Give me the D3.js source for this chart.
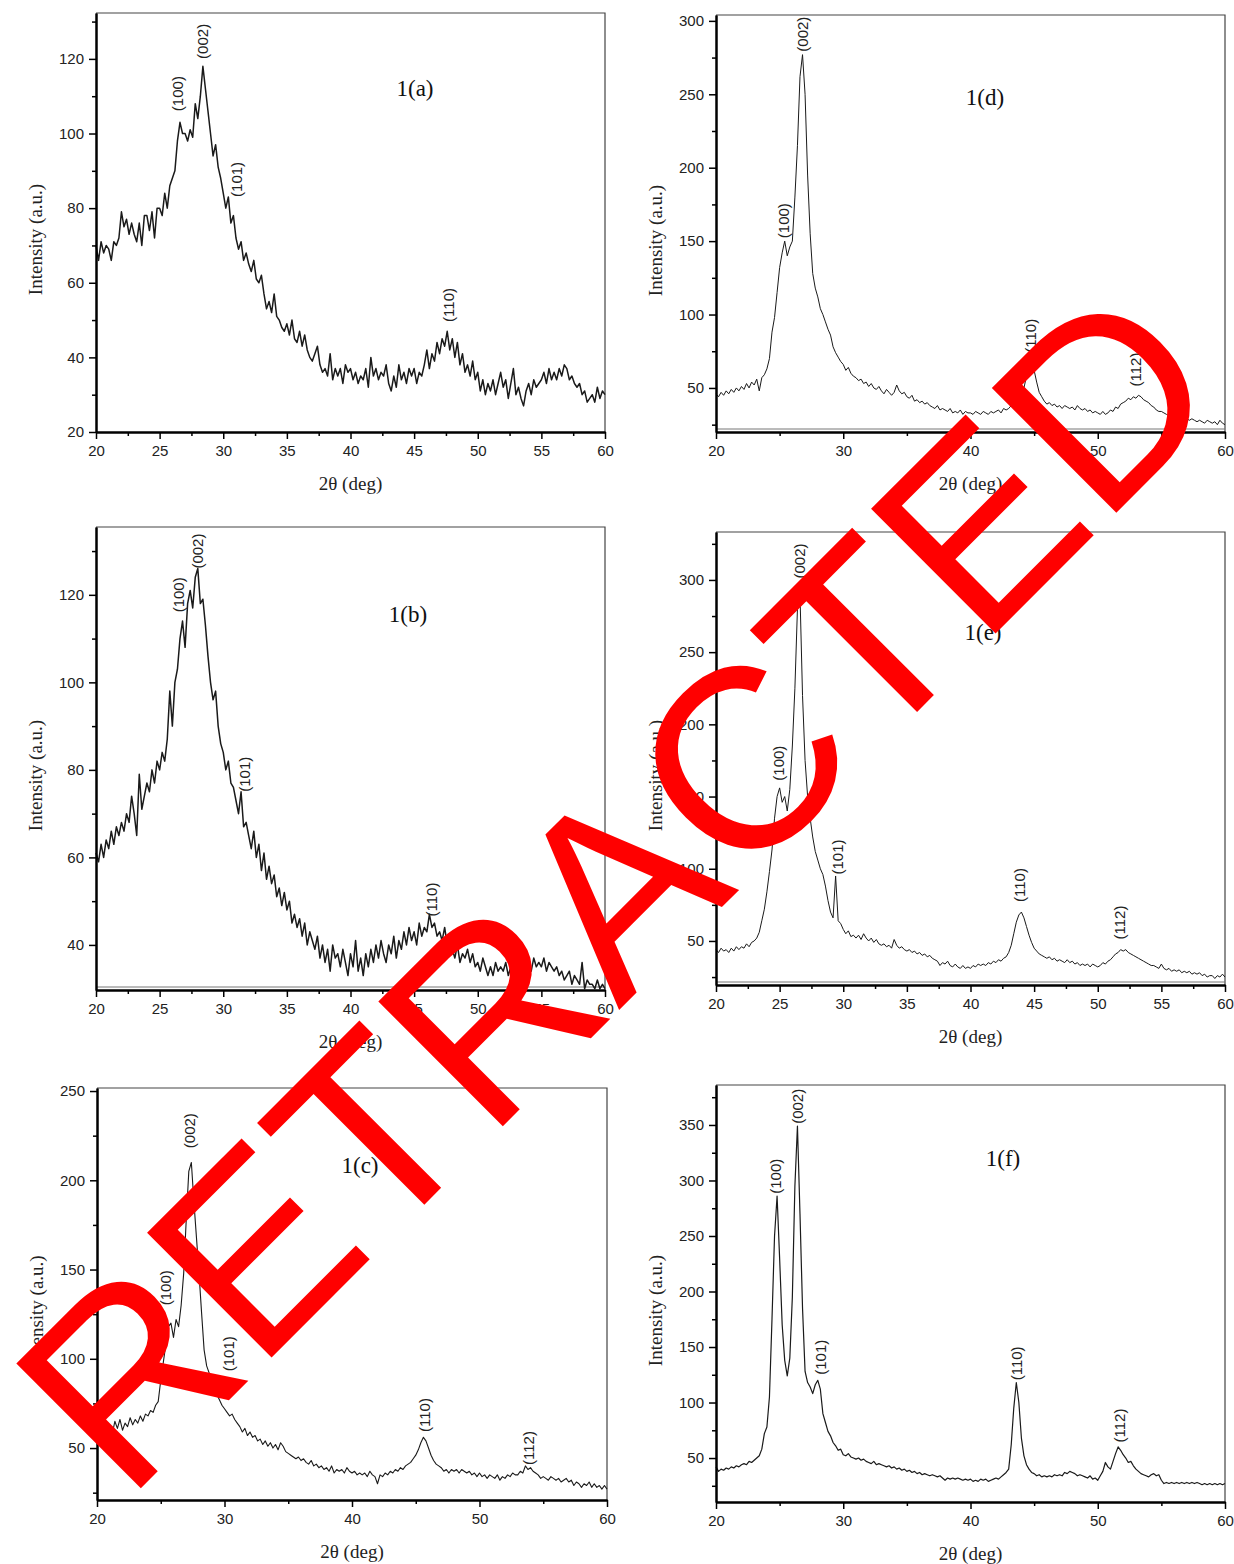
<!DOCTYPE html>
<html>
<head>
<meta charset="utf-8">
<script src="https://cdn.jsdelivr.net/npm/d3@7"></script>
<style>
  body { margin: 0; background: #fff; }
  svg { display: block; }
</style>
</head>
<body>
<svg id="chart" width="1234" height="1564"></svg>
<script>
// measurement grid: 2-theta from 20 to 60 deg, 0.2 deg step
const twoTheta = d3.range(0, 201).map(i => 20 + i * 0.2);

// intensities, one group per degree (x.0 x.2 x.4 x.6 x.8)
const intensityA = [
  70, 66, 71, 68, 70,  69, 66, 71, 70, 72,  79, 75, 77, 73, 76,  73, 71, 76, 70, 78,
  78, 74, 79, 72, 80,  80, 78, 84, 80, 86,  88, 90, 98, 103, 100,  100, 98, 101, 99, 108,
  104, 110, 118, 112, 106,  100, 94, 97, 91, 88,  84, 80, 83, 76, 78,  72, 69, 71, 66, 68,
  65, 63, 66, 61, 60,  62, 57, 53, 55, 52,  57, 51, 50, 48, 47,  49, 46, 50, 45, 44,
  47, 43, 46, 42, 40,  39, 41, 43, 38, 36,  37, 35, 41, 34, 37,  35, 37, 33, 38, 36,
  37, 34, 36, 33, 35,  34, 37, 32, 40, 35,  37, 34, 36, 35, 38,  33, 31, 35, 32, 38,
  34, 36, 33, 37, 35,  37, 33, 36, 35, 38,  42, 37, 41, 39, 44,  41, 45, 43, 47, 42,
  45, 40, 44, 38, 41,  36, 38, 35, 39, 34,  36, 31, 34, 30, 33,  31, 34, 30, 33, 36,
  32, 34, 29, 33, 37,  30, 32, 29, 27, 31,  33, 30, 34, 32, 33,  34, 36, 33, 37, 34,
  36, 34, 37, 35, 38,  37, 34, 35, 33, 32,  33, 30, 31, 28, 29,  30, 28, 32, 29, 31,
  30
];
const intensityB = [
  61, 59, 63, 60, 64,  62, 66, 63, 67, 65,  68, 66, 70, 68, 74,  70, 65, 79, 71, 74,
  77, 75, 80, 77, 82,  80, 84, 82, 87, 98,  90, 100, 103, 110, 114,  108, 118, 121, 117, 124,
  126, 118, 119, 113, 106,  100, 96, 98, 90, 86,  84, 80, 82, 77, 76,  73, 70, 75, 67, 68,
  65, 62, 66, 60, 63,  57, 61, 55, 58, 54,  56, 51, 53, 49, 52,  48, 50, 45, 47, 44,
  46, 42, 45, 40, 43,  41, 39, 42, 37, 40,  36, 39, 34, 40, 37,  38, 35, 39, 36, 33,
  38, 35, 41, 34, 37,  33, 38, 35, 39, 36,  40, 37, 41, 38, 36,  40, 38, 42, 37, 41,
  39, 43, 40, 44, 41,  43, 40, 45, 42, 44,  43, 47, 44, 45, 42,  43, 41, 44, 40, 42,
  39, 37, 40, 36, 38,  37, 39, 36, 38, 35,  36, 34, 37, 35, 33,  35, 33, 36, 34, 35,
  34, 36, 33, 35, 34,  35, 37, 34, 36, 35,  36, 34, 37, 35, 36,  35, 37, 34, 36, 35,
  34, 35, 33, 34, 32,  33, 34, 31, 33, 32,  31, 36, 30, 32, 31,  31, 30, 32, 30, 31,
  30
];
const intensityC = [
  58, 62, 60, 64, 59,  63, 58, 65, 61, 66,  60, 64, 62, 67, 63,  66, 64, 68, 65, 69,
  68, 71, 70, 74, 76,  88, 98, 108, 118, 120,  112, 122, 118, 130, 148,  178, 205, 210, 188, 168,
  148, 126, 105, 96, 92,  88, 84, 80, 77, 74,  72, 70, 68, 69, 66,  64, 62, 59, 61, 57,
  59, 56, 57, 54, 55,  52, 54, 51, 53, 50,  52, 49, 53, 51, 48,  47, 46, 45, 44, 45,
  43, 44, 42, 41, 43,  40, 41, 39, 40, 38,  39, 37, 40, 36, 38,  37, 38, 36, 39, 37,
  36, 37, 35, 36, 35,  36, 34, 37, 35, 34,  30, 35, 34, 36, 35,  37, 36, 38, 37, 39,
  38, 40, 41, 42, 44,  46, 49, 53, 56, 54,  50, 46, 43, 41, 40,  39, 37, 38, 36, 38,
  37, 38, 36, 38, 37,  36, 37, 35, 36, 34,  36, 34, 35, 33, 35,  34, 33, 35, 32, 34,
  33, 35, 34, 36, 35,  35, 37, 36, 40, 38,  39, 37, 36, 35, 33,  34, 33, 32, 34, 33,
  32, 33, 31, 32, 33,  31, 32, 29, 31, 30,  28, 30, 29, 31, 28,  30, 28, 29, 27, 29,
  27
];
const intensityD = [
  46, 44, 47, 45, 48,  46, 49, 47, 50, 48,  51, 49, 53, 50, 54,  52, 56, 48, 57, 59,
  63, 70, 88, 98, 115,  132, 142, 150, 140, 146,  150, 180, 215, 262, 277,  250, 195, 155, 128, 118,
  112, 104, 100, 95, 90,  86, 78, 74, 71, 68,  66, 62, 64, 60, 58,  57, 55, 56, 53, 54,
  51, 53, 50, 49, 51,  48, 46, 49, 47, 45,  47, 52, 48, 46, 47,  44, 43, 45, 41, 42,
  40, 41, 39, 40, 38,  37, 36, 38, 35, 36,  35, 34, 36, 33, 34,  33, 35, 32, 34, 33,
  33, 32, 34, 33, 32,  34, 33, 32, 34, 33,  34, 35, 33, 36, 35,  36, 38, 37, 39, 41,
  44, 50, 58, 68, 66,  62, 54, 47, 44, 41,  39, 40, 38, 39, 37,  38, 36, 38, 37, 36,
  37, 35, 38, 36, 35,  36, 34, 35, 33, 34,  33, 32, 34, 32, 33,  35, 34, 37, 36, 39,
  40, 41, 43, 42, 44,  43, 45, 44, 42, 41,  40, 38, 37, 35, 34,  34, 33, 32, 31, 32,
  30, 31, 29, 30, 29,  29, 28, 29, 28, 27,  28, 27, 26, 28, 27,  26, 27, 25, 28, 26,
  25
];
const intensityE = [
  44, 42, 45, 43, 44,  42, 45, 43, 46, 44,  46, 45, 48, 46, 49,  50, 52, 56, 64, 72,
  84, 98, 113, 135, 150,  156, 146, 150, 140, 155,  185, 225, 280, 290, 220,  175, 150, 135, 122, 112,
  106, 100, 96, 88, 78,  70, 66, 95, 64, 62,  58, 55, 57, 53, 54,  52, 54, 51, 55, 52,
  50, 52, 49, 51, 48,  47, 48, 46, 47, 45,  51, 47, 45, 46, 44,  43, 44, 42, 43, 41,
  42, 40, 41, 39, 40,  38, 37, 36, 33, 35,  34, 36, 33, 32, 34,  32, 31, 33, 31, 32,
  31, 33, 32, 34, 33,  34, 33, 35, 34, 36,  35, 37, 36, 38, 39,  42, 47, 55, 63, 68,
  70, 66, 60, 54, 49,  45, 43, 41, 40, 39,  38, 39, 37, 38, 36,  37, 36, 35, 37, 35,
  36, 34, 35, 33, 34,  33, 34, 32, 34, 33,  32, 33, 35, 34, 36,  37, 39, 41, 42, 44,
  43, 44, 42, 41, 40,  39, 38, 37, 36, 35,  34, 33, 33, 32, 31,  34, 31, 30, 31, 29,
  30, 29, 30, 28, 29,  28, 29, 27, 28, 27,  28, 26, 27, 25, 26,  26, 24, 26, 25, 27,
  25
];
const intensityF = [
  42, 38, 40, 39, 41,  40, 42, 41, 43, 42,  44, 45, 44, 47, 46,  48, 50, 52, 58, 72,
  78, 105, 175, 250, 286,  230, 170, 138, 124, 140,  195, 295, 349, 270, 185,  128, 118, 114, 108, 116,
  120, 112, 90, 82, 74,  70, 64, 61, 57, 58,  53, 52, 54, 51, 50,  49, 50, 48, 49, 47,
  46, 45, 47, 44, 45,  44, 43, 42, 43, 41,  42, 40, 41, 39, 40,  38, 39, 37, 38, 36,
  37, 35, 36, 35, 34,  35, 34, 33, 34, 32,  30, 32, 31, 32, 31,  32, 31, 30, 31, 30,
  31, 29, 30, 29, 31,  30, 31, 29, 30, 31,  32, 31, 33, 35, 37,  40, 62, 95, 118, 100,
  68, 52, 44, 40, 37,  36, 34, 35, 33, 34,  33, 34, 33, 35, 34,  35, 34, 37, 36, 38,
  37, 36, 34, 35, 34,  33, 32, 34, 31, 32,  30, 34, 38, 46, 42,  40, 47, 54, 60, 57,
  53, 50, 46, 47, 43,  40, 38, 36, 35, 34,  33, 35, 36, 34, 35,  30, 27, 28, 27, 28,
  27, 28, 27, 28, 27,  28, 27, 28, 27, 28,  27, 26, 27, 26, 27,  26, 27, 26, 27, 26,
  27
];

// peak annotations: hkl text, 2-theta, intensity where the label starts
const peaksA = ["(100)", "(002)", "(101)", "(110)"];
const peakPosA = [26.4, 28.4, 31.1, 47.7];
const peakTopA = [106, 120, 83, 49.5];
const peaksB = ["(100)", "(002)", "(101)", "(110)"];
const peakPosB = [26.5, 28.0, 31.7, 46.4];
const peakTopB = [116, 126, 75, 46.5];
const peaksC = ["(100)", "(002)", "(101)", "(110)", "(112)"];
const peakPosC = [25.4, 27.3, 30.3, 45.7, 53.9];
const peakTopC = [130, 218, 93, 59, 40.5];
const peaksD = ["(100)", "(002)", "(110)", "(112)"];
const peakPosD = [25.3, 26.85, 44.7, 53.0];
const peakTopD = [152, 279, 74, 51];
const peaksE = ["(100)", "(002)", "(101)", "(110)", "(112)"];
const peakPosE = [24.95, 26.6, 29.6, 43.9, 51.75];
const peakTopE = [161, 301, 96, 77, 51];
const peaksF = ["(100)", "(002)", "(101)", "(110)", "(112)"];
const peakPosF = [24.7, 26.4, 28.2, 43.65, 51.7];
const peakTopF = [288, 351, 125, 120, 64];

const panelNames = ["1(a)", "1(b)", "1(c)", "1(d)", "1(e)", "1(f)"];

const svg = d3.select("#chart");
svg.append("rect").attr("width", 1234).attr("height", 1564).attr("fill", "#fff");

const sans = "'Liberation Sans', Arial, sans-serif";
const serif = "'Liberation Serif', 'Times New Roman', serif";

const every5 = { major: d3.range(20, 61, 5), minor: d3.range(22.5, 60, 5) };
const every10 = { major: d3.range(20, 61, 10), minor: d3.range(25, 60, 10) };

const panels = [
  { name: panelNames[0], values: intensityA, peaks: peaksA, pos: peakPosA, top: peakTopA,
    box: [96, 605, 13, 432], yDomain: [20, 132.3], xt: every5, lw: 1.5,
    yMajor: d3.range(20, 121, 20), yMinor: d3.range(30, 131, 20), label: [415, 88], doubleBase: false },
  { name: panelNames[1], values: intensityB, peaks: peaksB, pos: peakPosB, top: peakTopB,
    box: [96, 605, 527, 990], yDomain: [29.7, 135.5], xt: every5, lw: 1.5,
    yMajor: d3.range(40, 121, 20), yMinor: d3.range(50, 131, 20), label: [408, 614], doubleBase: true },
  { name: panelNames[2], values: intensityC, peaks: peaksC, pos: peakPosC, top: peakTopC,
    box: [97, 607, 1088, 1500], yDomain: [20.9, 251.7], xt: every10, lw: 1.1,
    yMajor: d3.range(50, 251, 50), yMinor: d3.range(25, 226, 50), label: [360, 1165], doubleBase: false },
  { name: panelNames[3], values: intensityD, peaks: peaksD, pos: peakPosD, top: peakTopD,
    box: [716, 1225, 15, 432], yDomain: [20, 304], xt: every10, lw: 1,
    yMajor: d3.range(50, 301, 50), yMinor: d3.range(25, 276, 50), label: [985, 97], doubleBase: true },
  { name: panelNames[4], values: intensityE, peaks: peaksE, pos: peakPosE, top: peakTopE,
    box: [716, 1225, 532, 985], yDomain: [19.5, 333.2], xt: every5, lw: 1,
    yMajor: d3.range(50, 301, 50), yMinor: d3.range(25, 326, 50), label: [983, 632], doubleBase: true },
  { name: panelNames[5], values: intensityF, peaks: peaksF, pos: peakPosF, top: peakTopF,
    box: [716, 1225, 1085, 1502], yDomain: [10.4, 386], xt: every10, lw: 1.2,
    yMajor: d3.range(50, 351, 50), yMinor: d3.range(25, 376, 50), label: [1003, 1158], doubleBase: false }
];

function drawPanel(p) {
  const [left, right, top, bottom] = p.box;
  const x = d3.scaleLinear().domain([20, 60]).range([left, right]);
  const y = d3.scaleLinear().domain(p.yDomain).range([bottom, top]);
  const g = svg.append("g");

  // frame (top and right sides)
  g.append("path")
    .attr("d", `M${left},${top}H${right}V${bottom}`)
    .attr("fill", "none")
    .attr("stroke", "#444")
    .attr("stroke-width", 1.2);

  if (p.doubleBase) {
    g.append("line")
      .attr("x1", left).attr("x2", right)
      .attr("y1", bottom - 3).attr("y2", bottom - 3)
      .attr("stroke", "#777").attr("stroke-width", 1);
  }

  const line = d3.line()
    .x((d, i) => x(twoTheta[i]))
    .y(d => y(d));

  g.append("path")
    .datum(p.values)
    .attr("d", line)
    .attr("fill", "none")
    .attr("stroke", "#1a1a1a")
    .attr("stroke-width", p.lw)
    .attr("stroke-linejoin", "round");

  // axes: minor ticks first, then labelled major ticks
  const axisStyle = sel => {
    sel.selectAll("path.domain").attr("stroke", "#000").attr("stroke-width", 2);
    sel.selectAll(".tick line").attr("stroke", "#000").attr("stroke-width", 1.5);
    sel.selectAll("text").attr("font-family", sans).attr("font-size", 15).attr("fill", "#222");
  };

  g.append("g")
    .attr("transform", `translate(0,${bottom})`)
    .call(d3.axisBottom(x).tickValues(p.xt.minor).tickSize(4).tickSizeOuter(0).tickFormat(""))
    .call(axisStyle);
  g.append("g")
    .attr("transform", `translate(0,${bottom})`)
    .call(d3.axisBottom(x).tickValues(p.xt.major).tickSize(7).tickSizeOuter(0).tickPadding(6).tickFormat(d3.format("d")))
    .call(axisStyle);

  g.append("g")
    .attr("transform", `translate(${left},0)`)
    .call(d3.axisLeft(y).tickValues(p.yMinor.filter(v => v <= p.yDomain[1])).tickSize(4).tickSizeOuter(0).tickFormat(""))
    .call(axisStyle);
  g.append("g")
    .attr("transform", `translate(${left},0)`)
    .call(d3.axisLeft(y).tickValues(p.yMajor).tickSize(7).tickSizeOuter(0).tickPadding(5).tickFormat(d3.format("d")))
    .call(axisStyle);

  // axis titles
  g.append("text")
    .attr("x", (left + right) / 2)
    .attr("y", bottom + 58)
    .attr("text-anchor", "middle")
    .attr("font-family", serif)
    .attr("font-size", 19)
    .attr("fill", "#222")
    .text("2θ (deg)");

  g.append("text")
    .attr("transform", `translate(${left - 54},${(top + bottom) / 2 + 17}) rotate(-90)`)
    .attr("text-anchor", "middle")
    .attr("font-family", serif)
    .attr("font-size", 19)
    .attr("fill", "#222")
    .text("Intensity (a.u.)");

  // sample label
  g.append("text")
    .attr("x", p.label[0])
    .attr("y", p.label[1])
    .attr("text-anchor", "middle")
    .attr("dy", "0.35em")
    .attr("font-family", serif)
    .attr("font-size", 23)
    .attr("fill", "#111")
    .text(p.name);

  // hkl labels
  g.selectAll(".hkl")
    .data(p.peaks)
    .enter()
    .append("text")
    .attr("class", "hkl")
    .attr("transform", (d, i) => `translate(${x(p.pos[i])},${y(p.top[i])}) rotate(-90)`)
    .attr("dy", "0.35em")
    .attr("font-family", sans)
    .attr("font-size", 15)
    .attr("fill", "#222")
    .text(d => d);
}

panels.forEach(drawPanel);

// retraction stamp over everything
svg.append("text")
  .attr("transform", "translate(126,1503) rotate(-45)")
  .attr("font-family", sans)
  .attr("font-size", 256)
  .attr("fill", "#ff0000")
  .text("RETRACTED");
</script>
</body>
</html>
